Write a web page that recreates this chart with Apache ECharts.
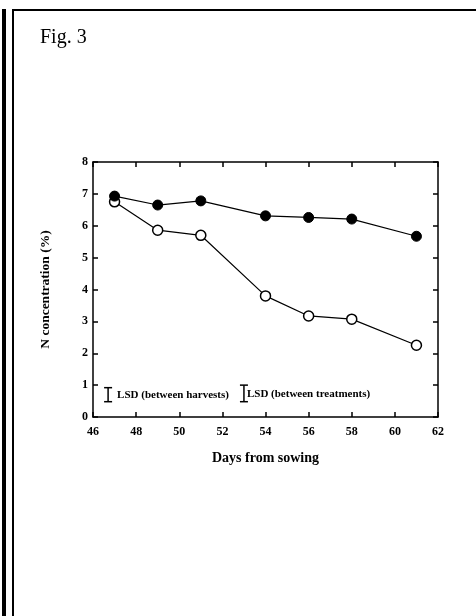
<!DOCTYPE html>
<html><head><meta charset="utf-8">
<script src="https://cdn.jsdelivr.net/npm/echarts@6/dist/echarts.min.js"></script>
<style>html,body{margin:0;padding:0;background:#fff}#c{width:476px;height:616px}</style>
</head><body><div id="c"></div>
<script>
const days = [47, 49, 51, 54, 56, 58, 61];
const filledSeries = [6.93, 6.65, 6.78, 6.31, 6.26, 6.21, 5.67];
const openSeries = [6.75, 5.86, 5.70, 3.80, 3.17, 3.07, 2.25];
const xTicks = [46, 48, 50, 52, 54, 56, 58, 60, 62];
const yTicks = [0, 1, 2, 3, 4, 5, 6, 7, 8];
const lsdX = [46.7, 53.0];
const lsdLow = [0.48, 0.48];
const lsdHigh = [0.92, 1.0];
const lsdLabels = ['LSD (between harvests)', 'LSD (between treatments)'];

const serif = '"Liberation Serif","DejaVu Serif",serif';
const chart = echarts.init(document.getElementById('c'), null, {renderer: 'canvas'});

const axisCommon = {
  type: 'value', interval: 1,
  axisLine: {show: true, onZero: false, lineStyle: {color: '#000', width: 1.5}},
  axisTick: {show: true, inside: true, length: 5, lineStyle: {color: '#000', width: 1.5}},
  splitLine: {show: false}
};

chart.setOption({
  animation: false,
  backgroundColor: '#fff',
  grid: {left: 93, right: 38, top: 162, bottom: 199, containLabel: false},
  graphic: [
    {type: 'rect', shape: {x: 2, y: 9, width: 4, height: 620}, style: {fill: '#000'}},
    {type: 'rect', shape: {x: 12, y: 9, width: 2, height: 620}, style: {fill: '#000'}},
    {type: 'rect', shape: {x: 12, y: 9, width: 470, height: 2}, style: {fill: '#000'}},
    {type: 'text', left: 40, top: 28, style: {text: 'Fig. 3', font: '20px ' + serif, fill: '#000'}}
  ],
  xAxis: [
    Object.assign({}, axisCommon, {
      min: 46, max: 62, interval: 2, position: 'bottom',
      name: 'Days from sowing', nameLocation: 'middle', nameGap: 34,
      nameTextStyle: {fontFamily: serif, fontWeight: 'bold', fontSize: 14, color: '#000'},
      axisLabel: {show: true, fontFamily: serif, fontWeight: 'bold', fontSize: 12, color: '#000', margin: 9,
        formatter: v => xTicks.indexOf(v) >= 0 ? String(v) : ''}
    }),
    Object.assign({}, axisCommon, {
      min: 46, max: 62, interval: 2, position: 'top', axisLabel: {show: false}
    })
  ],
  yAxis: [
    Object.assign({}, axisCommon, {
      min: 0, max: 8, position: 'left',
      name: 'N concentration (%)', nameLocation: 'middle', nameGap: 40, nameRotate: 90,
      nameTextStyle: {fontFamily: serif, fontWeight: 'bold', fontSize: 13.5, color: '#000'},
      axisLabel: {show: true, fontFamily: serif, fontWeight: 'bold', fontSize: 12, color: '#000', margin: 5,
        formatter: v => yTicks.indexOf(v) >= 0 ? String(v) : ''}
    }),
    Object.assign({}, axisCommon, {
      min: 0, max: 8, position: 'right', axisLabel: {show: false}
    })
  ],
  series: [
    {
      type: 'line', xAxisIndex: 0, yAxisIndex: 0,
      data: days.map((d, i) => [d, openSeries[i]]),
      symbol: 'circle', symbolSize: 10,
      lineStyle: {color: '#000', width: 1.2},
      itemStyle: {color: '#fff', borderColor: '#000', borderWidth: 1.5},
      z: 3
    },
    {
      type: 'line', xAxisIndex: 0, yAxisIndex: 0,
      data: days.map((d, i) => [d, filledSeries[i]]),
      symbol: 'circle', symbolSize: 10,
      lineStyle: {color: '#000', width: 1.2},
      itemStyle: {color: '#000', borderColor: '#000', borderWidth: 1},
      z: 3
    },
    {
      type: 'custom', xAxisIndex: 0, yAxisIndex: 0,
      data: lsdX.map((x, i) => [x, lsdLow[i], lsdHigh[i], i]),
      renderItem: function (params, api) {
        const lo = api.coord([api.value(0), api.value(1)]);
        const hi = api.coord([api.value(0), api.value(2)]);
        const idx = api.value(3);
        const cw = 4;
        return {
          type: 'group',
          children: [
            {type: 'line', shape: {x1: lo[0], y1: lo[1], x2: hi[0], y2: hi[1]}, style: {stroke: '#000', lineWidth: 1.5}},
            {type: 'line', shape: {x1: lo[0] - cw, y1: lo[1], x2: lo[0] + cw, y2: lo[1]}, style: {stroke: '#000', lineWidth: 1.5}},
            {type: 'line', shape: {x1: hi[0] - cw, y1: hi[1], x2: hi[0] + cw, y2: hi[1]}, style: {stroke: '#000', lineWidth: 1.5}},
            {type: 'text', x: lo[0] + (idx === 0 ? 9 : 3), y: (lo[1] + hi[1]) / 2 + (idx === 0 ? 0 : 1),
              style: {text: lsdLabels[idx], font: 'bold 11px ' + serif, fill: '#000', textVerticalAlign: 'middle', verticalAlign: 'middle'}}
          ]
        };
      },
      z: 4
    }
  ]
});
</script>
</body></html>
